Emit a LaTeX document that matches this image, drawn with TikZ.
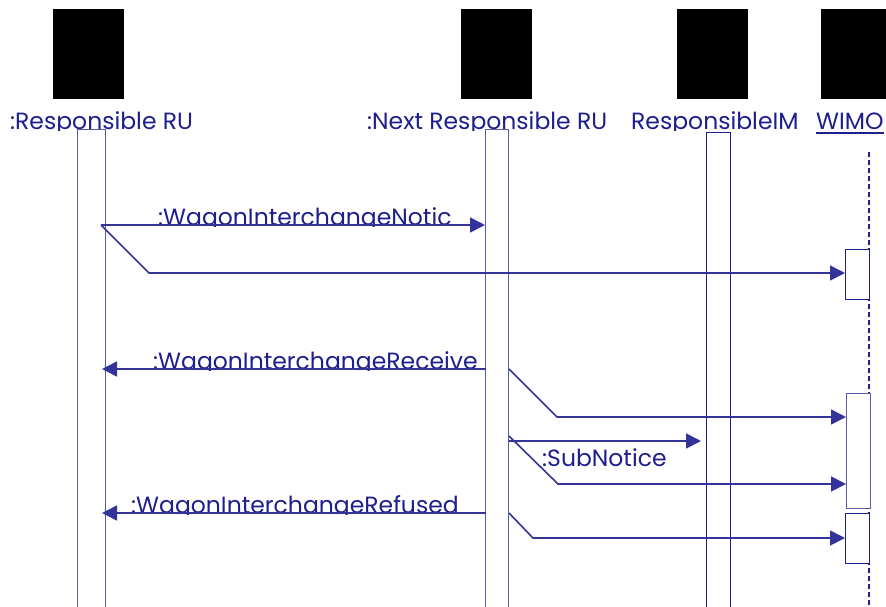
\documentclass[tikz,border=0pt]{standalone}
\usepackage{fontspec}
\setmainfont{Poppins}
\usetikzlibrary{arrows.meta,calc}
\definecolor{ink}{HTML}{1E1E8C}
\definecolor{wire}{HTML}{333399}
\definecolor{pale}{HTML}{5A5AAA}
\begin{document}
\begin{tikzpicture}[x=1pt,y=-1pt,
  txt/.style={text=ink, inner sep=0, anchor=base west, font=\fontsize{23.5}{28}\selectfont},
  head/.style={fill=black, inner sep=0, minimum width=71pt, minimum height=90pt, anchor=north west},
  lifebox/.style={draw=pale, line width=1pt, fill=white, inner sep=0, anchor=north west,
    minimum width=#1, minimum height=490pt},
  actbox/.style={draw=ink, line width=1pt, fill=white, inner sep=0, anchor=north west,
    minimum width=24pt, minimum height=#1},
  msg/.style={draw=wire, line width=1.6pt, -{Triangle[length=15pt,width=15pt]}},
  wimoline/.style={draw=ink, line width=1.6pt, dash pattern=on 5pt off 3pt}
]
\useasboundingbox (0,0) rectangle (886,606);

% object heads
\node[head] (hRR) at (53,9) {};
\node[head] (hNR) at (461,9) {};
\node[head] (hIM) at (677,9) {};
\node[head] (hW)  at (821,9) {};

% object names, cut at the top of the lifelines
\begin{scope}
  \clip (0,100) rectangle (886,130);
  \node[txt] (lRR) at (10,129.5) {:Responsible RU};
  \node[txt] (lNR) at (367,129.5) {:Next Responsible RU};
  \node[txt] (lIM) at (631,129.5) {ResponsibleIM};
  \node[txt] (lW)  at (816,129.5) {WIMO};
\end{scope}
\draw[ink, line width=2pt] ($(lW.base west)+(0,3)$) -- ($(lW.base east)+(0,3)$);

% lifelines
\node[lifebox=28pt] (rr) at (77,129) {};
\node[lifebox=23pt] (nr) at (485,129) {};
\node[lifebox=24pt, draw=ink] (im) at (706,132) {};
\coordinate (wtop) at (869,152);
\coordinate (wbot) at (869,606);
\draw[wimoline] (wtop) -- (wbot);

% activations on WIMO
\node[actbox=50pt] (a1) at (845,249) {};
\node[actbox=115pt, draw=pale] (a2) at (846,393) {};
\node[actbox=50pt] (a3) at (845,513) {};

% message labels
\begin{scope}
  \clip (100,195) rectangle (484,226.5);
  \node[txt] (t1) at (158,225) {:WagonInterchangeNotic};
\end{scope}
\begin{scope}
  \clip (100,340) rectangle (486,370.5);
  \node[txt] (t3) at (153,369) {:WagonInterchangeReceive};
\end{scope}
\begin{scope}
  \clip (100,485) rectangle (486,514.5);
  \node[txt] (t7) at (131,513) {:WagonInterchangeRefused};
\end{scope}
\begin{scope}
  \clip (530,444) rectangle (700,466.5);
  \node[txt] (t5) at (542,466) {:SubNotice};
\end{scope}

% message end points
\coordinate (s1) at (101,225);
\coordinate (e1) at (485,225);
\coordinate (k2) at (149,273);
\coordinate (e2) at (845,273);
\coordinate (s3) at (486,369);
\coordinate (e3) at (102,369);
\coordinate (s4) at (509,369);
\coordinate (k4) at (557,417);
\coordinate (e4) at (846,417);
\coordinate (s5) at (509,441);
\coordinate (e5) at (701,441);
\coordinate (s6) at (509,436);
\coordinate (k6) at (558,484);
\coordinate (e6) at (846,484);
\coordinate (s7) at (486,513);
\coordinate (e7) at (102,513);
\coordinate (s8) at (509,513);
\coordinate (k8) at (533,538);
\coordinate (e8) at (845,538);

% messages
\draw[msg] (s1) -- (e1);
\draw[msg] (s1) -- (k2) -- (e2);
\draw[msg] (s3) -- (e3);
\draw[msg] (s4) -- (k4) -- (e4);
\draw[msg] (s5) -- (e5);
\draw[msg] (s6) -- (k6) -- (e6);
\draw[msg] (s7) -- (e7);
\draw[msg] (s8) -- (k8) -- (e8);
\end{tikzpicture}
\end{document}
